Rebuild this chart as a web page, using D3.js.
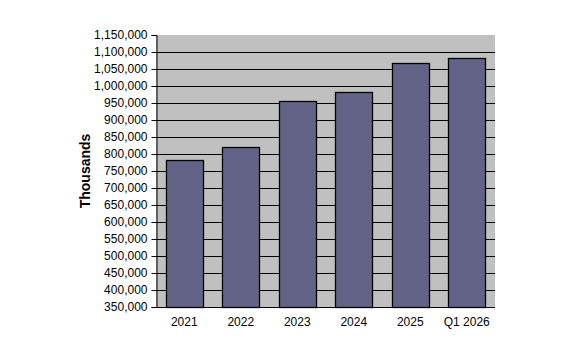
<!DOCTYPE html>
<html><head><meta charset="utf-8">
<script src="https://cdn.jsdelivr.net/npm/d3@7"></script>
<style>body{margin:0;background:#fff;}svg{display:block;font-family:"Liberation Sans",Arial,sans-serif;}</style>
</head><body>
<script>
const categories = ["2021","2022","2023","2024","2025","Q1 2026"];
const values = [783000, 820000, 955000, 982000, 1067000, 1082000];
const yTicks = d3.range(350000, 1150001, 50000);
const yLabel = "Thousands";

const W = 573, H = 356;
const m = {left:156, right:78, top:35, bottom:49};
const svg = d3.select("body").append("svg").attr("width",W).attr("height",H);
const x = d3.scaleBand().domain(categories).range([m.left, W-m.right]).paddingInner(0.34).paddingOuter(0.17);
const y = d3.scaleLinear().domain([350000,1150000]).range([H-m.bottom, m.top]);

svg.append("rect").attr("x",m.left).attr("y",m.top).attr("width",W-m.right-m.left).attr("height",H-m.bottom-m.top).attr("fill","#C0C0C0");

svg.append("g").selectAll("line").data(yTicks.slice(1, -1)).join("line")
  .attr("x1",m.left).attr("x2",W-m.right)
  .attr("y1",d=>Math.round(y(d))+0.5).attr("y2",d=>Math.round(y(d))+0.5)
  .attr("stroke","#000").attr("stroke-width",1);

svg.append("g").selectAll("rect").data(values).join("rect")
  .attr("x",(d,i)=>Math.round(x(categories[i]))+0.5)
  .attr("y",d=>Math.round(y(d))+0.5)
  .attr("width",Math.round(x.bandwidth()))
  .attr("height",d=>Math.round(y(350000))-Math.round(y(d)))
  .attr("fill","#636388").attr("stroke","#000").attr("stroke-width",1.3);

const ya = svg.append("g").attr("transform",`translate(${m.left+0.5},0)`)
  .call(d3.axisLeft(y).tickValues(yTicks).tickSize(5).tickPadding(4).tickFormat(d3.format(",")));
ya.select(".domain").attr("stroke","#000");
ya.selectAll("text").attr("font-size",12).attr("fill","#000").attr("font-family","Liberation Sans, Arial, sans-serif");

svg.append("line").attr("x1",m.left).attr("x2",W-m.right).attr("y1",H-m.bottom+0.5).attr("y2",H-m.bottom+0.5).attr("stroke","#000");

svg.append("g").selectAll("text").data(categories).join("text")
  .attr("x",d=>x(d)+x.bandwidth()/2).attr("y",H-m.bottom+19)
  .attr("text-anchor","middle").attr("font-size",12).text(d=>d);

svg.append("text").attr("transform",`translate(90,${(m.top+H-m.bottom)/2}) rotate(-90)`)
  .attr("text-anchor","middle").attr("font-size",14).attr("font-weight","bold").text(yLabel);
</script>
</body></html>
